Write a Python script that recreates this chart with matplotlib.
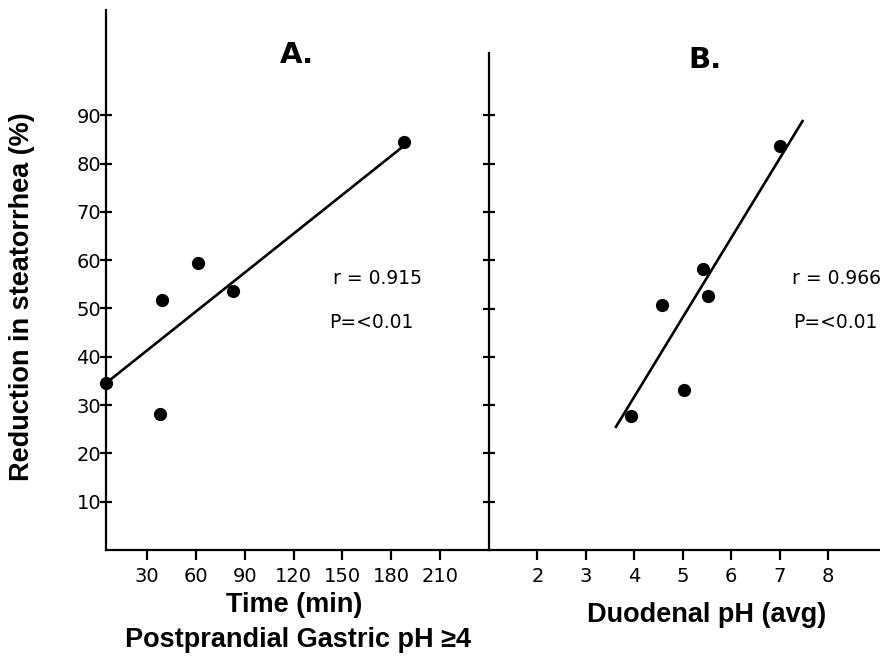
import matplotlib
matplotlib.use('Agg')
import matplotlib.pyplot as plt

# panel A: time with postprandial gastric pH >= 4 vs reduction in steatorrhea
time_a = [5, 38, 39, 61.5, 83, 188]
red_a = [34.6, 28.2, 51.8, 59.4, 53.6, 84.5]
fit_a_x = [5, 186]
fit_a_y = [34.6, 83.2]
xticks_a = [30, 60, 90, 120, 150, 180, 210]

# panel B: duodenal pH vs reduction in steatorrhea
ph_b = [3.93, 4.57, 5.02, 5.41, 5.52, 7.0]
red_b = [27.7, 50.7, 33.1, 58.2, 52.6, 83.6]
fit_b_x = [3.62, 7.47]
fit_b_y = [25.5, 88.8]
xticks_b = [2, 3, 4, 5, 6, 7, 8]

yticks = [10, 20, 30, 40, 50, 60, 70, 80, 90]

W, H = 880, 658
fig = plt.figure(figsize=(8.8, 6.58), dpi=100)

def px(x, y):
    return x / W, 1 - y / H

tick_font = {'family': 'DejaVu Sans', 'size': 14}
label_font = {'family': 'Liberation Sans', 'weight': 'bold', 'size': 19.5}

def style(ax, show_labels):
    for s in ['top', 'right']:
        ax.spines[s].set_visible(False)
    for s in ['left', 'bottom']:
        ax.spines[s].set_linewidth(1.6)
    ax.set_yticks(yticks)
    ax.tick_params(axis='y', direction='inout', length=9, width=1.6, pad=-1)
    ax.tick_params(axis='x', direction='out', length=7, width=1.6, pad=5)
    if show_labels:
        ax.set_yticklabels([str(v) for v in yticks], fontdict=tick_font)
    else:
        ax.set_yticklabels([])
    ax.patch.set_alpha(0)

# panel A
ax1 = fig.add_axes([106 / W, 108 / H, (490 - 106) / W, (550 - 10) / H])
ax1.plot(fit_a_x, fit_a_y, color='black', lw=1.9, clip_on=False)
ax1.plot(time_a, red_a, 'o', color='black', ms=8.5, clip_on=False)
ax1.set_xlim(4.8, 240.7)
ax1.set_ylim(0, 111.8)
style(ax1, True)
ax1.set_xticks(xticks_a)
ax1.set_xticklabels([str(v) for v in xticks_a], fontdict=tick_font)
ax1.text(144, 56.3, 'r = 0.915', fontsize=13.5, family='DejaVu Sans', va='center')
ax1.text(142, 47, 'P=<0.01', fontsize=13.5, family='DejaVu Sans', va='center')

# panel B
ax2 = fig.add_axes([489 / W, 108 / H, (880 - 489) / W, (550 - 53) / H])
ax2.plot(fit_b_x, fit_b_y, color='black', lw=1.9)
ax2.plot(ph_b, red_b, 'o', color='black', ms=8.5)
ax2.set_xlim(1.0, 9.07)
ax2.set_ylim(0, 102.9)
style(ax2, False)
ax2.set_xticks(xticks_b)
ax2.set_xticklabels([str(v) for v in xticks_b], fontdict=tick_font)
ax2.text(7.26, 56.3, 'r = 0.966', fontsize=13.5, family='DejaVu Sans', va='center')
ax2.text(7.28, 47, 'P=<0.01', fontsize=13.5, family='DejaVu Sans', va='center')

# panel letters and axis titles
fig.text(*px(297, 55), 'A.', fontsize=21, family='DejaVu Sans', weight='bold',
         ha='center', va='center')
fig.text(*px(705, 60), 'B.', fontsize=21, family='DejaVu Sans', weight='bold',
         ha='center', va='center')
fig.text(*px(22, 297), 'Reduction in steatorrhea (%)', rotation=90,
         ha='center', va='center', **label_font)
fig.text(*px(294, 605), 'Time (min)', ha='center', va='center', **label_font)
fig.text(*px(298, 640), 'Postprandial Gastric pH \u22654', ha='center', va='center', **label_font)
fig.text(*px(707, 615), 'Duodenal pH (avg)', ha='center', va='center', **label_font)

fig.savefig('out.png', dpi=100)
